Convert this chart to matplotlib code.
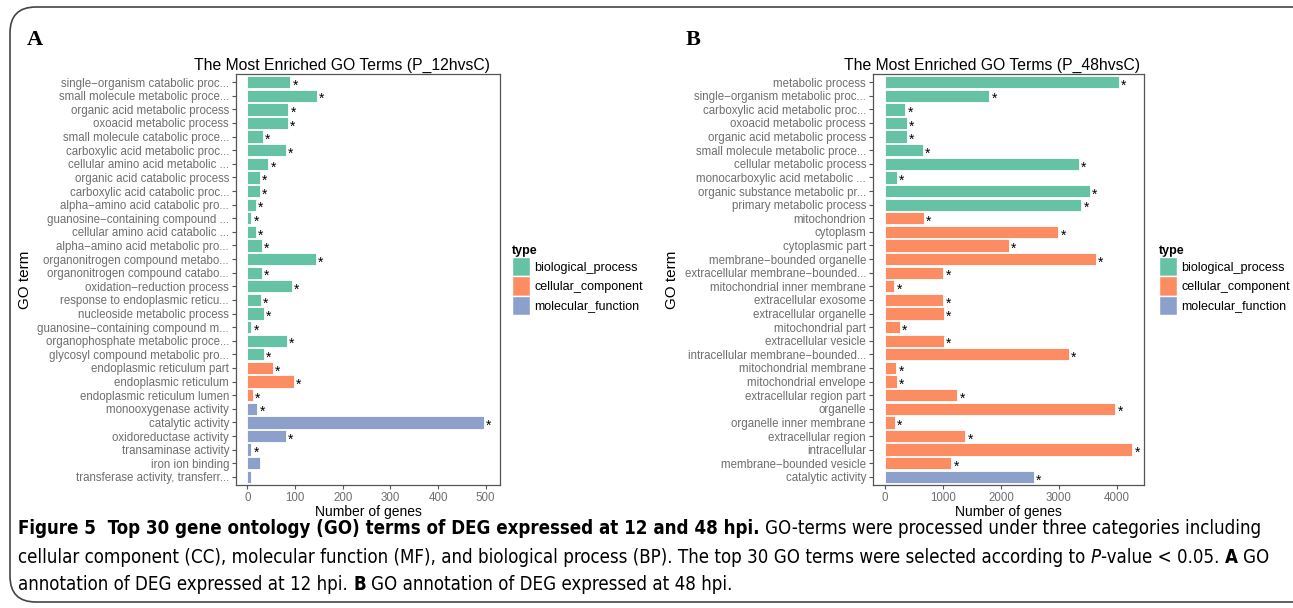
import matplotlib
matplotlib.use('Agg')
import matplotlib.pyplot as plt
import numpy as np
from matplotlib.patches import Patch, FancyBboxPatch

W, H = 1293, 608
plt.rcParams['font.family'] = ['Liberation Sans', 'DejaVu Sans']

COLORS = {'biological_process': '#66C2A5',
          'cellular_component': '#FC8D62',
          'molecular_function': '#8DA0CB'}
GRAY = '#6E6E6E'

# panel A (P_12hvsC)
terms_a = [
    'single−organism catabolic proc...', 'small molecule metabolic proce...',
    'organic acid metabolic process', 'oxoacid metabolic process',
    'small molecule catabolic proce...', 'carboxylic acid metabolic proc...',
    'cellular amino acid metabolic ...', 'organic acid catabolic process',
    'carboxylic acid catabolic proc...', 'alpha−amino acid catabolic pro...',
    'guanosine−containing compound ...', 'cellular amino acid catabolic ...',
    'alpha−amino acid metabolic pro...', 'organonitrogen compound metabo...',
    'organonitrogen compound catabo...', 'oxidation−reduction process',
    'response to endoplasmic reticu...', 'nucleoside metabolic process',
    'guanosine−containing compound m...', 'organophosphate metabolic proce...',
    'glycosyl compound metabolic pro...', 'endoplasmic reticulum part',
    'endoplasmic reticulum', 'endoplasmic reticulum lumen',
    'monooxygenase activity', 'catalytic activity', 'oxidoreductase activity',
    'transaminase activity', 'iron ion binding',
    'transferase activity, transferr...']
counts_a = [90, 146, 86, 85, 32, 81, 44, 26, 26, 17, 8, 17, 30, 144, 30, 93,
            28, 35, 8, 83, 35, 54, 97, 11, 21, 496, 81, 8, 26, 8]
types_a = ['biological_process'] * 21 + ['cellular_component'] * 3 + ['molecular_function'] * 6
stars_a = [True] * 28 + [False, False]

# panel B (P_48hvsC)
terms_b = [
    'metabolic process', 'single−organism metabolic proc...',
    'carboxylic acid metabolic proc...', 'oxoacid metabolic process',
    'organic acid metabolic process', 'small molecule metabolic proce...',
    'cellular metabolic process', 'monocarboxylic acid metabolic ...',
    'organic substance metabolic pr...', 'primary metabolic process',
    'mitochondrion', 'cytoplasm', 'cytoplasmic part',
    'membrane−bounded organelle', 'extracellular membrane−bounded...',
    'mitochondrial inner membrane', 'extracellular exosome',
    'extracellular organelle', 'mitochondrial part', 'extracellular vesicle',
    'intracellular membrane−bounded...', 'mitochondrial membrane',
    'mitochondrial envelope', 'extracellular region part', 'organelle',
    'organelle inner membrane', 'extracellular region', 'intracellular',
    'membrane−bounded vesicle', 'catalytic activity']
counts_b = [4030, 1800, 350, 374, 374, 655, 3345, 200, 3530, 3390, 667, 2994,
            2138, 3644, 1006, 160, 1006, 1010, 253, 1010, 3167, 195, 207, 1247,
            3977, 167, 1385, 4270, 1144, 2575]
types_b = ['biological_process'] * 10 + ['cellular_component'] * 19 + ['molecular_function']
stars_b = [True] * 30


def px_box(x0, y0, x1, y1):
    return [x0 / W, 1 - y1 / H, (x1 - x0) / W, (y1 - y0) / H]


def go_panel(fig, box, terms, counts, types, stars, xlim, step, title, title_x, legend_x):
    ax = fig.add_axes(px_box(*box))
    y = np.arange(len(terms))
    ax.barh(y, counts, height=0.9, color=[COLORS[t] for t in types],
            edgecolor='white', linewidth=0.6)
    for yi, v, s in zip(y, counts, stars):
        if s:
            ax.annotate('*', xy=(v, yi), xytext=(1.5, -2.5), textcoords='offset points',
                        ha='left', va='center', fontsize=10, color='black')
    ax.set_ylim(len(terms) - 0.4, -0.6)
    ax.set_xlim(*xlim)
    ax.set_xticks(np.arange(0, xlim[1], step))
    ax.set_yticks(y)
    ax.set_yticklabels(terms)
    ax.tick_params(axis='both', colors='#555555', labelcolor=GRAY, labelsize=8.3,
                   length=3, width=0.8, pad=2)
    for sp in ax.spines.values():
        sp.set_color('#555555')
        sp.set_linewidth(0.9)
    ax.set_xlabel('Number of genes', fontsize=10, labelpad=1)
    ax.set_ylabel('GO term', fontsize=11, labelpad=4)
    fig.text(title_x / W, 1 - 65 / H, title, ha='center', va='center', fontsize=11.3)

    handles = [Patch(facecolor=c, edgecolor='white', label=k) for k, c in COLORS.items()]
    leg = ax.legend(handles=handles, title='type', loc='upper left',
                    bbox_to_anchor=(legend_x / W, 1 - 245 / H), bbox_transform=fig.transFigure,
                    frameon=False, fontsize=9, handlelength=1.45, handleheight=2.0,
                    handletextpad=0.35, labelspacing=0.0, borderaxespad=0, borderpad=0)
    leg.get_title().set_fontweight('bold')
    leg.get_title().set_fontsize(9)
    leg._legend_box.align = 'left'
    return ax


fig = plt.figure(figsize=(W / 100, H / 100), dpi=100)

frame = FancyBboxPatch((10 / W, 1 - 602 / H), 1340 / W, 595 / H,
                       boxstyle='round,pad=0,rounding_size=0.02',
                       transform=fig.transFigure, facecolor='none',
                       edgecolor='#444444', linewidth=1.2, mutation_aspect=W / H)
fig.patches.append(frame)

fig.text(27 / W, 1 - 45 / H, 'A', fontsize=16, fontweight='bold',
         family='Liberation Serif', ha='left', va='baseline')
fig.text(686 / W, 1 - 45 / H, 'B', fontsize=16, fontweight='bold',
         family='Liberation Serif', ha='left', va='baseline')

go_panel(fig, (236, 74, 500, 485), terms_a, counts_a, types_a, stars_a,
         (-24, 530), 100, 'The Most Enriched GO Terms (P_12hvsC)', 342, 512)
go_panel(fig, (873, 74, 1144, 485), terms_b, counts_b, types_b, stars_b,
         (-207, 4470), 1000, 'The Most Enriched GO Terms (P_48hvsC)', 992, 1159)

# caption
CAP_FONT = ['DejaVu Sans']
renderer = fig.canvas.get_renderer()

line1 = [
    ('Figure 5  Top 30 gene ontology (GO) terms of DEG expressed at 12 and 48 hpi.', 'bold', 'normal'),
    (' GO-terms were processed under three categories including', 'normal', 'normal')]
line2 = [
    ('cellular component (CC), molecular function (MF), and biological process (BP). '
     'The top 30 GO terms were selected according to', 'normal', 'normal'),
    (' P', 'normal', 'italic'),
    ('-value < 0.05.', 'normal', 'normal'),
    (' A', 'bold', 'normal'),
    (' GO', 'normal', 'normal')]
line3 = [
    ('annotation of DEG expressed at 12 hpi.', 'normal', 'normal'),
    (' B', 'bold', 'normal'),
    (' GO annotation of DEG expressed at 48 hpi.', 'normal', 'normal')]


def text_width(s, size, **kw):
    t = fig.text(0, 0, s, fontsize=size, family=CAP_FONT, fontstretch='condensed', **kw)
    w = t.get_window_extent(renderer).width
    t.remove()
    return w


def line_width(segments, size, draw_y=None):
    space = text_width('x x', size) - text_width('xx', size)
    x = 18
    for s, weight, style in segments:
        x += (len(s) - len(s.lstrip(' '))) * space
        s = s.strip(' ')
        if draw_y is None:
            x += text_width(s, size, fontweight=weight, fontstyle=style)
        else:
            t = fig.text(x / W, 1 - draw_y / H, s, fontsize=size, family=CAP_FONT,
                         fontstretch='condensed', fontweight=weight, fontstyle=style,
                         ha='left', va='baseline')
            x += t.get_window_extent(renderer).width
    return x - 18


# fit the caption width to the reference (first line ends near x=1270)
cap_size = 12.5 * 1252 / line_width(line1, 12.5)

for yy, seg in zip([534, 563, 590], [line1, line2, line3]):
    line_width(seg, cap_size, draw_y=yy)

fig.savefig('out.png', dpi=100)
